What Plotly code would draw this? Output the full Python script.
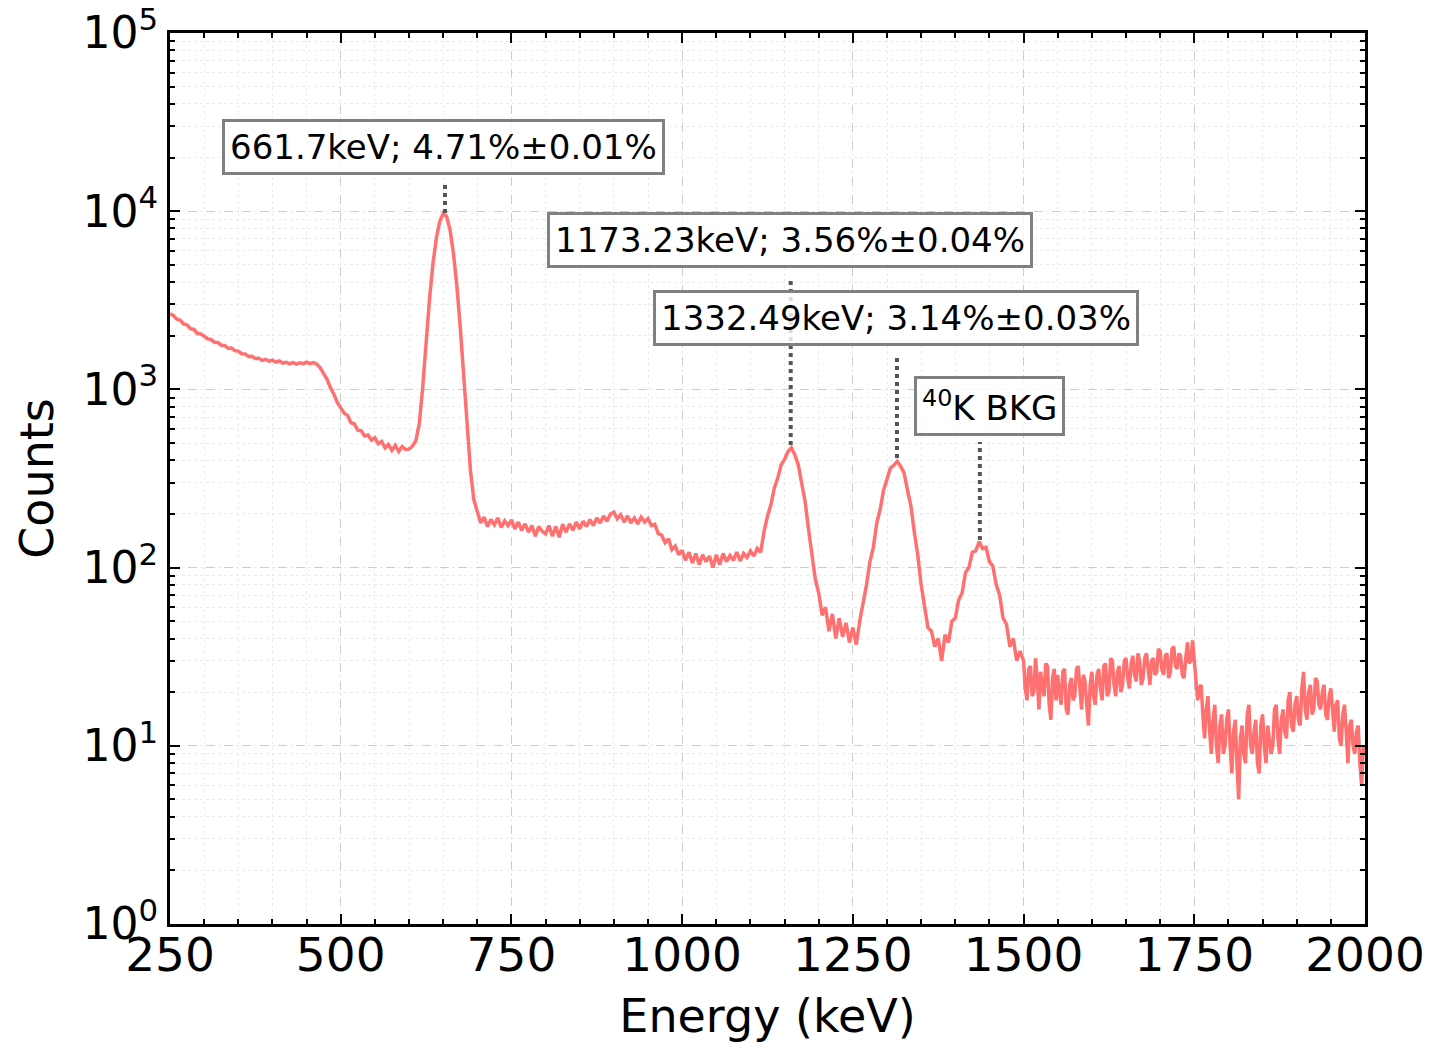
import plotly.graph_objects as go

# ---------------- data ----------------
# 250-1495 keV, 5 keV bins
counts_low = [
    # 250-295
    2650, 2600, 2480, 2440, 2330, 2300, 2190, 2170, 2060, 2050,
    # 300-345
    1990, 1920, 1905, 1840, 1835, 1770, 1765, 1700, 1705, 1650,
    # 350-395
    1640, 1585, 1580, 1530, 1535, 1490, 1495, 1455, 1475, 1440,
    # 400-445
    1460, 1425, 1445, 1405, 1420, 1390, 1415, 1385, 1410, 1395,
    # 450-495
    1420, 1395, 1415, 1385, 1320, 1215, 1140, 1020, 940, 845,
    # 500-545
    790, 735, 715, 650, 640, 590, 585, 548, 555, 520,
    # 550-595
    535, 495, 510, 470, 490, 455, 485, 448, 478, 460,
    # 600-645
    462, 480, 515, 640, 1020, 1850, 3200, 5050, 7050, 8750,
    # 650-695
    9700, 9350, 7900, 5850, 3850, 2250, 1150, 620, 350, 240,
    # 700-745
    205, 178, 192, 170, 186, 174, 190, 168, 183, 172,
    # 750-795
    185, 165, 180, 162, 176, 158, 172, 150, 170, 160,
    # 800-845
    155, 172, 150, 170, 148, 175, 158, 176, 162, 180,
    # 850-895
    165, 182, 170, 186, 172, 190, 178, 195, 182, 200,
    # 900-945
    205, 188, 198, 180, 195, 178, 190, 176, 192, 180,
    # 950-995
    188, 172, 175, 155, 152, 138, 145, 126, 132, 118,
    # 1000-1045
    125, 110, 122, 106, 120, 104, 118, 108, 116, 100,
    # 1050-1095
    118, 104, 120, 108, 117, 110, 122, 109, 120, 114,
    # 1100-1145
    124, 116, 128, 122, 160, 195, 225, 280, 318, 378,
    # 1150-1195
    405, 448, 470, 430, 378, 296, 236, 165, 122, 86,
    # 1200-1245
    72, 54, 60, 44, 55, 40, 52, 41, 49, 38,
    # 1250-1295
    46, 37, 50, 62, 80, 108, 130, 178, 212, 272,
    # 1300-1345
    310, 362, 375, 395, 370, 340, 272, 222, 158, 118,
    # 1350-1395
    80, 62, 46, 44, 36, 40, 30, 42, 38, 50,
    # 1400-1445
    52, 66, 72, 94, 100, 122, 124, 140, 128, 130,
    # 1450-1495
    108, 102, 80, 70, 52, 48, 36, 40, 30, 34,
]

# 1500-2000 keV, 2.5 keV bins (noisy tail)
counts_high = [
    # 1500-1547.5
    30, 21, 18, 27, 28, 19, 20, 31, 24, 16, 26, 22, 19, 29, 28, 17, 14, 24, 27, 18,
    # 1550-1597.5
    25, 20, 17, 26, 27, 16, 15, 22, 24, 18, 19, 27, 28, 21, 16, 25, 23, 17, 13, 22,
    # 1600-1647.5
    26, 19, 17, 25, 27, 21, 18, 28, 29, 19, 20, 31, 30, 22, 19, 26, 28, 20, 22, 30,
    # 1650-1697.5
    31, 24, 21, 29, 32, 25, 23, 33, 30, 22, 24, 31, 33, 27, 22, 30, 31, 25, 26, 35,
    # 1700-1747.5
    34, 27, 25, 32, 33, 24, 26, 35, 36, 28, 27, 33, 32, 25, 24, 31, 38, 29, 30, 39,
    # 1750-1797.5
    31, 24, 18, 21, 22, 15, 11, 16, 19, 12, 9, 14, 17, 10, 8, 13, 15, 9, 10, 14,
    # 1800-1847.5
    16, 10, 7, 12, 14, 8, 5, 11, 13, 9, 8, 15, 17, 10, 9, 12, 14, 8, 7, 13,
    # 1850-1897.5
    15, 10, 8, 13, 11, 9, 10, 16, 17, 11, 9, 14, 16, 12, 11, 18, 20, 13, 12, 17,
    # 1900-1947.5
    19, 14, 13, 21, 26, 16, 14, 20, 22, 15, 16, 24, 23, 17, 16, 20, 22, 15, 14, 19,
    # 1950-1997.5
    21, 15, 12, 17, 18, 11, 10, 15, 17, 12, 8, 13, 14, 10, 9, 12, 13, 8, 6, 10,
    # 2000
    9,
]

energy_kev = ([250 + 5 * i for i in range(len(counts_low))]
              + [1500 + 2.5 * i for i in range(len(counts_high))])
counts = counts_low + counts_high

peak_energies = [652.7, 1159.0, 1314.6, 1436.0]
peak_counts = [9770, 488, 412, 143]
marker_tops = [14400, 4270, 1560, 507]
peak_labels = [
    "661.7keV; 4.71%±0.01%",
    "1173.23keV; 3.56%±0.04%",
    "1332.49keV; 3.14%±0.03%",
    "<sup>40</sup>K BKG",
]
label_x = [650.5, 1158.6, 1313.0, 1450.0]
label_y_log = [4.363, 3.841, 3.400, 2.909]

x_ticks = [250, 500, 750, 1000, 1250, 1500, 1750, 2000]
y_ticks = [1, 10, 100, 1000, 10000, 100000]
y_tick_text = ["10<sup>%d</sup>" % i for i in range(6)]

# ---------------- figure ----------------
FONT = "DejaVu Sans"
fig = go.Figure()

fig.add_trace(go.Scatter(
    x=energy_kev, y=counts, mode="lines",
    line=dict(color="rgb(255,112,112)", width=3.5),
    showlegend=False, hoverinfo="skip",
))

for e, c, t in zip(peak_energies, peak_counts, marker_tops):
    fig.add_trace(go.Scatter(
        x=[e, e], y=[c, t], mode="lines",
        line=dict(color="rgb(85,85,85)", width=4, dash="dot"),
        showlegend=False, hoverinfo="skip",
    ))

for txt, lx, ly in zip(peak_labels, label_x, label_y_log):
    fig.add_annotation(
        x=lx, y=ly, xref="x", yref="y", text=txt, showarrow=False,
        xanchor="center", yanchor="middle",
        font=dict(family=FONT, size=34, color="black"),
        bgcolor="rgba(255,255,255,0.8)",
        bordercolor="rgb(128,128,128)", borderwidth=3, borderpad=5,
    )

axis_common = dict(
    showline=True, linecolor="black", linewidth=3, mirror="allticks",
    ticks="inside", ticklen=10, tickwidth=2, tickcolor="black",
    showgrid=True, gridcolor="rgb(205,205,205)", gridwidth=1, griddash="dash",
    zeroline=False,
)

fig.update_xaxes(
    **axis_common,
    range=[250, 2000], tickvals=x_ticks, ticktext=[str(v) for v in x_ticks],
    tickfont=dict(family=FONT, size=47, color="black"),
    ticklabelstandoff=-12,
    minor=dict(dtick=50, ticks="inside", ticklen=5, tickwidth=1.5, tickcolor="black",
               showgrid=True, gridcolor="rgb(235,235,235)", griddash="dot", gridwidth=1),
    title=dict(text="Energy (keV)", font=dict(family=FONT, size=46, color="black"), standoff=22),
)
fig.update_yaxes(
    **axis_common,
    type="log", range=[0, 5], tickvals=y_ticks, ticktext=y_tick_text,
    tickfont=dict(family=FONT, size=44, color="black"),
    ticklabelstandoff=0,
    minor=dict(ticks="inside", ticklen=5, tickwidth=1.5, tickcolor="black", dtick="D1",
               showgrid=True, gridcolor="rgb(235,235,235)", griddash="dot", gridwidth=1),
    title=dict(text="Counts", font=dict(family=FONT, size=46, color="black"), standoff=15),
)

fig.update_layout(
    width=1429, height=1043,
    margin=dict(l=170, r=64, t=33, b=119, autoexpand=False),
    paper_bgcolor="white", plot_bgcolor="white",
    font=dict(family=FONT, color="black"),
    showlegend=False,
)

fig.write_html("out.html", config={"displayModeBar": False})
